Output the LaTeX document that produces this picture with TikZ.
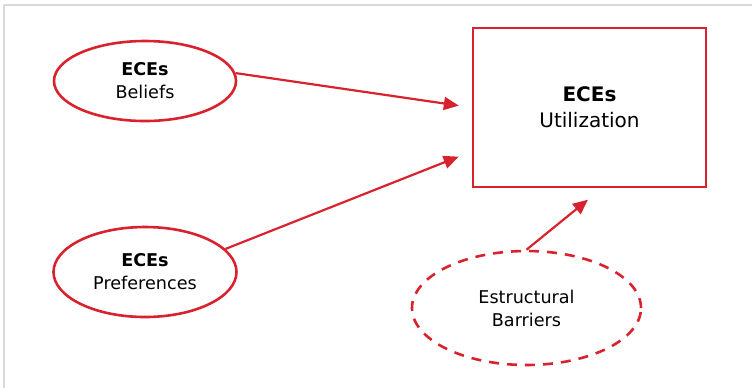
\documentclass[tikz,border=0pt]{standalone}
\usepackage{fontspec}
\setmainfont{DejaVu Sans}
\usetikzlibrary{arrows.meta,shapes.geometric}

\definecolor{ecered}{RGB}{216,35,46}

\begin{document}
\begin{tikzpicture}[
    x=0.5pt, y=-0.5pt,
    oval/.style = {ellipse, draw=ecered, line width=1.3pt, align=center, inner sep=0pt,
      font=\fontsize{8.8}{11.5}\selectfont},
    box/.style = {draw=ecered, line width=1.3pt, align=center, inner sep=0pt,
      font=\fontsize{10}{13}\selectfont},
    link/.style = {->, draw=ecered, line width=1.1pt},
    >={Triangle[length=7.5pt, width=6.5pt]}
  ]
  \useasboundingbox (0,0) rectangle (752,388);
  \draw[gray!30, line width=1pt] (4,388) -- (4,5) -- (752,5);

  \node[oval, minimum width=91pt, minimum height=40pt] (beliefs) at (145,81)
    {\textbf{ECEs}\\Beliefs};
  \node[oval, minimum width=91.5pt, minimum height=45pt] (prefs) at (145,272)
    {\textbf{ECEs}\\Preferences};
  \node[box, minimum width=116.5pt, minimum height=79.5pt] (util) at (589.5,107.5)
    {\textbf{ECEs}\\Utilization};
  \node[oval, dashed, dash pattern=on 5pt off 4pt, minimum width=114.5pt, minimum height=57pt]
    (barriers) at (526.5,308) {Estructural\\Barriers};

  \draw[link, shorten >=6.5pt] (beliefs.5) -- (util.west);
  \draw[link, shorten >=7pt] (prefs.16) -- ([yshift=-22pt]util.west);
  \draw[link, shorten >=9pt] (barriers.north) -- ([xshift=6.25pt]util.south);
\end{tikzpicture}
\end{document}
